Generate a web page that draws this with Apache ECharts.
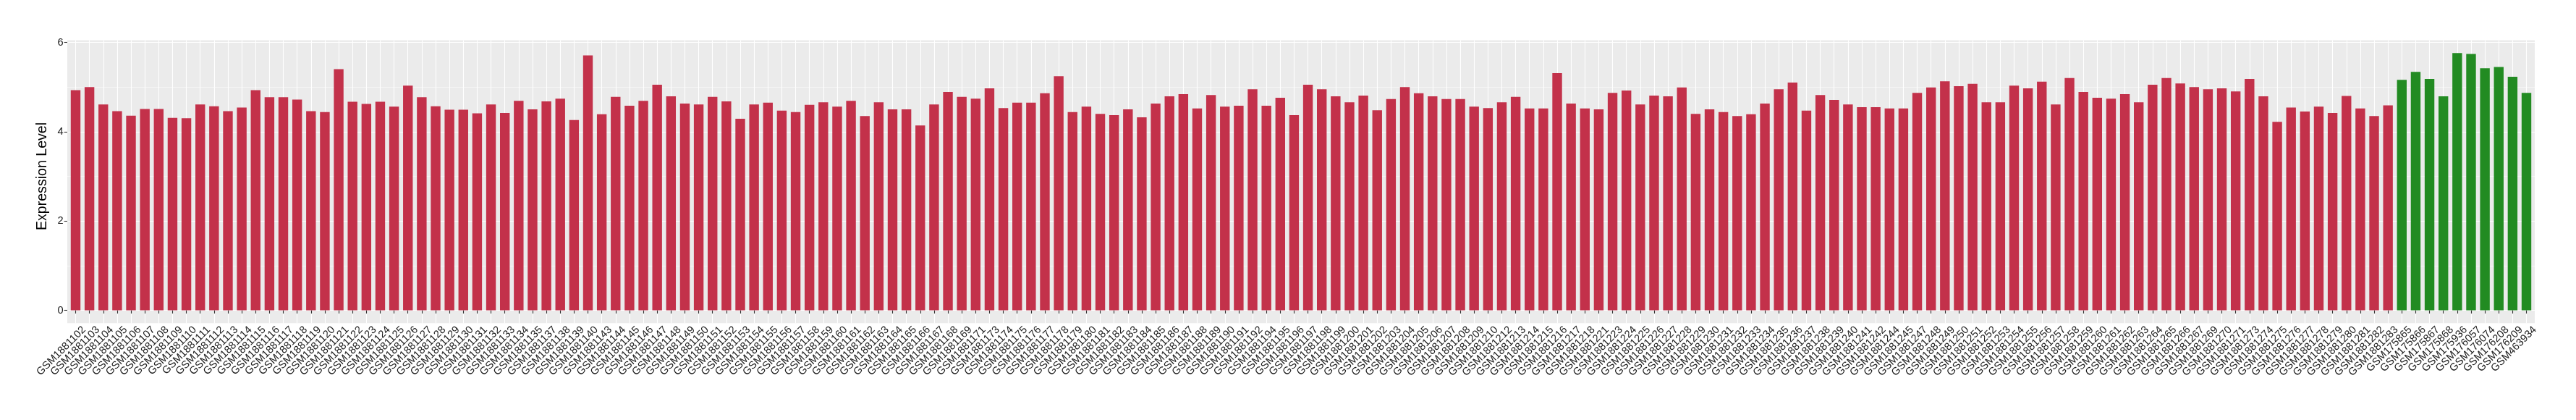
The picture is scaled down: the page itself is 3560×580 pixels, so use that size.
<!DOCTYPE html>
<html><head><meta charset="utf-8">
<script src="https://cdn.jsdelivr.net/npm/echarts@6/dist/echarts.min.js"></script>
<style>html,body{margin:0;padding:0;background:#fff}#c{width:3560px;height:580px}</style>
</head><body><div id="c"></div>
<script>
// ---- data ----
const redSamples = [
'GSM1881102','GSM1881103','GSM1881104','GSM1881105','GSM1881106','GSM1881107','GSM1881108','GSM1881109','GSM1881110','GSM1881111',
'GSM1881112','GSM1881113','GSM1881114','GSM1881115','GSM1881116','GSM1881117','GSM1881118','GSM1881119','GSM1881120','GSM1881121',
'GSM1881122','GSM1881123','GSM1881124','GSM1881125','GSM1881126','GSM1881127','GSM1881128','GSM1881129','GSM1881130','GSM1881131',
'GSM1881132','GSM1881133','GSM1881134','GSM1881135','GSM1881137','GSM1881138','GSM1881139','GSM1881140','GSM1881143','GSM1881144',
'GSM1881145','GSM1881146','GSM1881147','GSM1881148','GSM1881149','GSM1881150','GSM1881151','GSM1881152','GSM1881153','GSM1881154',
'GSM1881155','GSM1881156','GSM1881157','GSM1881158','GSM1881159','GSM1881160','GSM1881161','GSM1881162','GSM1881163','GSM1881164',
'GSM1881165','GSM1881166','GSM1881167','GSM1881168','GSM1881169','GSM1881171','GSM1881173','GSM1881174','GSM1881175','GSM1881176',
'GSM1881177','GSM1881178','GSM1881179','GSM1881180','GSM1881181','GSM1881182','GSM1881183','GSM1881184','GSM1881185','GSM1881186',
'GSM1881187','GSM1881188','GSM1881189','GSM1881190','GSM1881191','GSM1881192','GSM1881194','GSM1881195','GSM1881196','GSM1881197',
'GSM1881198','GSM1881199','GSM1881200','GSM1881201','GSM1881202','GSM1881203','GSM1881204','GSM1881205','GSM1881206','GSM1881207',
'GSM1881208','GSM1881209','GSM1881210','GSM1881212','GSM1881213','GSM1881214','GSM1881215','GSM1881216','GSM1881217','GSM1881218',
'GSM1881221','GSM1881223','GSM1881224','GSM1881225','GSM1881226','GSM1881227','GSM1881228','GSM1881229','GSM1881230','GSM1881231',
'GSM1881232','GSM1881233','GSM1881234','GSM1881235','GSM1881236','GSM1881237','GSM1881238','GSM1881239','GSM1881240','GSM1881241',
'GSM1881242','GSM1881244','GSM1881245','GSM1881247','GSM1881248','GSM1881249','GSM1881250','GSM1881251','GSM1881252','GSM1881253',
'GSM1881254','GSM1881255','GSM1881256','GSM1881257','GSM1881258','GSM1881259','GSM1881260','GSM1881261','GSM1881262','GSM1881263',
'GSM1881264','GSM1881265','GSM1881266','GSM1881267','GSM1881269','GSM1881270','GSM1881271','GSM1881273','GSM1881274','GSM1881275',
'GSM1881276','GSM1881277','GSM1881278','GSM1881279','GSM1881280','GSM1881281','GSM1881282','GSM1881283'
];
const redValues = [
4.93,5.00,4.61,4.46,4.36,4.51,4.51,4.31,4.30,4.61,
4.57,4.46,4.54,4.93,4.77,4.77,4.72,4.46,4.44,5.40,
4.67,4.62,4.67,4.56,5.03,4.77,4.57,4.49,4.49,4.41,
4.61,4.42,4.69,4.50,4.68,4.74,4.26,5.71,4.39,4.78,
4.58,4.69,5.05,4.79,4.63,4.61,4.78,4.68,4.29,4.61,
4.65,4.47,4.44,4.60,4.66,4.56,4.69,4.35,4.66,4.50,
4.50,4.14,4.61,4.89,4.78,4.74,4.97,4.53,4.65,4.65,
4.86,5.24,4.44,4.56,4.40,4.37,4.50,4.32,4.63,4.79,
4.84,4.52,4.82,4.56,4.58,4.95,4.58,4.76,4.37,5.05,
4.95,4.79,4.66,4.81,4.48,4.73,5.00,4.86,4.79,4.73,
4.73,4.56,4.53,4.66,4.78,4.52,4.52,5.31,4.63,4.52,
4.50,4.87,4.92,4.61,4.81,4.79,4.99,4.40,4.50,4.44,
4.35,4.39,4.63,4.95,5.10,4.47,4.82,4.71,4.61,4.55,
4.55,4.52,4.52,4.87,4.99,5.13,5.02,5.07,4.66,4.66,
5.03,4.97,5.12,4.61,5.20,4.89,4.76,4.74,4.84,4.66,
5.05,5.20,5.08,5.00,4.95,4.97,4.90,5.18,4.79,4.22,
4.54,4.45,4.56,4.42,4.80,4.52,4.35,4.59
];
const greenSamples = ['GSM175865','GSM175866','GSM175867','GSM175868','GSM175936','GSM176057','GSM176074','GSM176208','GSM176209','GSM463934'];
const greenValues = [5.16,5.34,5.18,4.79,5.76,5.74,5.42,5.45,5.23,4.87];
const yTickMax = 6;
const yTickStep = 2;
const yAxisTitle = 'Expression Level';

// ---- build ----
const RED = '#C3314A', GREEN = '#228B22';
const categories = redSamples.concat(greenSamples);
const values = redValues.concat(greenValues);
const barData = values.map((v, i) => ({ value: v, itemStyle: { color: i < redSamples.length ? RED : GREEN } }));

const N = categories.length;
const panelLeft = 93, panelRight = 3503;
const band = (panelRight - panelLeft) / (N + 0.2);
const firstCenter = panelLeft + 0.6 * band;
const lastCenter = firstCenter + (N - 1) * band;
const dataMax = Math.max.apply(null, values);
const yMax = dataMax * 1.05, yMin = -dataMax * 0.05;
const y0px = 428.5, yTopTickPx = 58.5;
const unit = (y0px - yTopTickPx) / yTickMax;
const panelTop = y0px - yMax * unit;
const panelBottom = y0px - yMin * unit;
const panelH = panelBottom - panelTop;
const FONT = 'Liberation Sans, Arial, sans-serif';
const TEXT = '#1A1A1A';

const chart = echarts.init(document.getElementById('c'), null, { renderer: 'canvas' });
chart.setOption({
  backgroundColor: '#FFFFFF',
  animation: false,
  grid: [
    { left: panelLeft, top: panelTop, width: panelRight - panelLeft, height: panelH, show: true, backgroundColor: '#EBEBEB', borderWidth: 0, containLabel: false },
    { left: panelLeft, top: yTopTickPx, width: panelRight - panelLeft, height: y0px - yTopTickPx, containLabel: false },
    { left: firstCenter, top: panelTop, width: lastCenter - firstCenter, height: panelH, containLabel: false }
  ],
  xAxis: [
    { gridIndex: 0, type: 'value', show: false },
    { gridIndex: 1, type: 'value', show: false },
    { gridIndex: 2, type: 'category', data: categories, boundaryGap: false,
      axisLine: { show: false },
      axisTick: { show: true, interval: 0, length: 4.4, lineStyle: { color: '#333333', width: 1.1 } },
      splitLine: { show: true, interval: 0, lineStyle: { color: '#FFFFFF', width: 1.1 } },
      axisLabel: { interval: 0, rotate: 45, margin: 8, verticalAlign: 'top', align: 'right', padding: [0, -9, 0, 0],
        fontSize: 14.6, color: TEXT, fontFamily: FONT, hideOverlap: false }
    }
  ],
  yAxis: [
    { gridIndex: 0, type: 'value', show: false },
    { gridIndex: 1, type: 'value', min: 0, max: yTickMax, interval: yTickStep,
      axisLine: { show: false },
      axisTick: { show: true, length: 4.4, lineStyle: { color: '#333333', width: 1.1 } },
      axisLabel: { margin: 5.5, fontSize: 14.6, color: TEXT, fontFamily: FONT },
      splitLine: { show: true, lineStyle: { color: '#FFFFFF', width: 1.1 } },
      minorTick: { show: false, splitNumber: 2 },
      minorSplitLine: { show: true, lineStyle: { color: '#FFFFFF', width: 0.55 } },
      name: yAxisTitle, nameLocation: 'middle', nameGap: 18,
      nameTextStyle: { fontSize: 19.6, color: '#000000', fontFamily: FONT }
    },
    { gridIndex: 2, type: 'value', min: yMin, max: yMax, show: false }
  ],
  series: [
    { type: 'bar', xAxisIndex: 2, yAxisIndex: 2, data: barData, barWidth: '70%', clip: false }
  ]
});
</script></body></html>
